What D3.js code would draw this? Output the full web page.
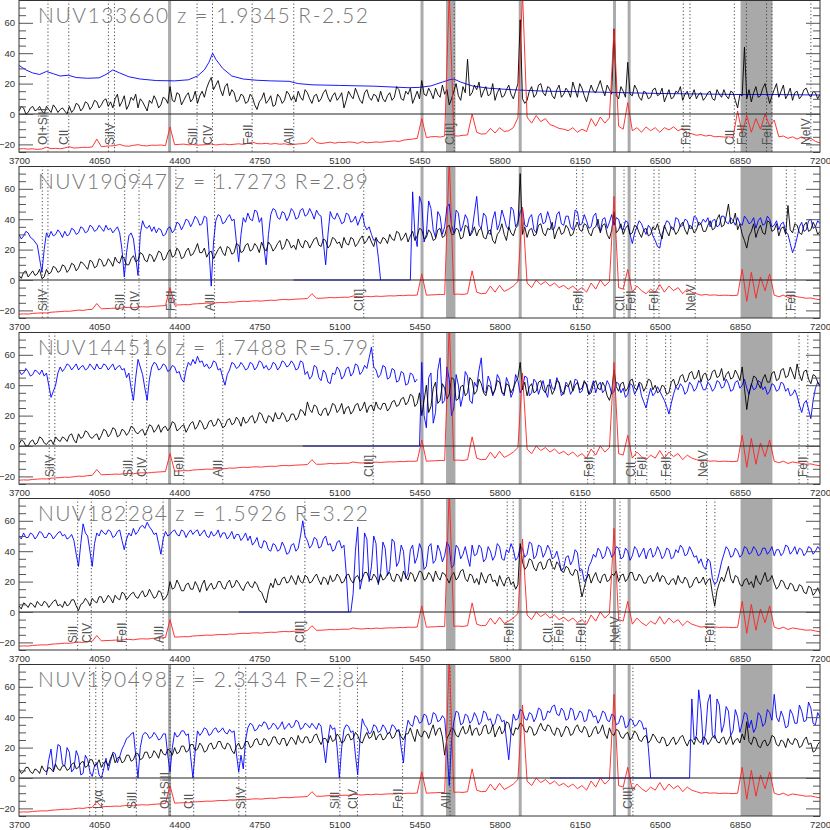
<!DOCTYPE html>
<html><head><meta charset="utf-8">
<script src="https://cdn.jsdelivr.net/npm/d3@7"></script>
<style>body{margin:0;background:#fff}svg{display:block}</style>
</head><body><svg id="c" width="830" height="830"></svg>
<script>
// ---------- DATA ----------
const WAVE0 = 3700;
const STEP = 10;       // object / comparison spectra sampled every 10 A
const SKY_STEP = 20;   // sky spectra sampled every 20 A
const xTicks = [3700,4050,4400,4750,5100,5450,5800,6150,6500,6850,7200];
const yMajor = [-20,0,20,40,60];
const yMinor = [-25,-15,-10,-5,5,10,15,25,30,35,45,50,55,65,70,75];
const titles = ["NUV133660 z = 1.9345 R-2.52","NUV190947 z = 1.7273 R=2.89","NUV144516 z = 1.7488 R=5.79","NUV182284 z = 1.5926 R=3.22","NUV190498 z = 2.3434 R=2.84"];
const redshifts = [1.9345, 1.7273, 1.7488, 1.5926, 2.3434];
const lineRest   = [1199,1207,1216,1260,1304,1335,1394,1403,1526,1549,1608,1670,1909,2250,2260,2326,2344,2374,2382,2440,2586,2600];
const lineLabels = ["","","Lyα","SiII","OI+SiII","CII","","SiIV","SiII","CIV","FeII","AlII","CIII]","","FeII","CII","FeII","","FeII","NeIV","","FeII"];
const skyLines = [4358, 5461, 5890, 6302, 6366];
const skyBands = [[5566,5607],[6853,6992]];

// ---- panel 1 ----
const p1Black = [2,5,4,0,1,4,5,2,3,5,2,0,5,3,1,6,4,1,3,4, 2,0,5,1,3,7,6,2,4,8,7,3,5,9,8,4,6,9,10,5,
 8,4,10,13,5,8,12,3,6,11,9,13,4,10,8,5,2,9,7,12, 9,4,6,11,10,7,18,9,8,14,13,6,9,12,14,8,10,15,7,12,
 15,11,17,21,24,16,19,22,16,12,18,20,12,16,14,8,9,13,12,7, 8,13,11,6,3,8,10,14,7,9,12,5,6,13,11,7,9,15,13,9,
 12,8,15,11,9,16,14,10,7,12,13,8,10,14,16,11,8,12,14,9, 11,14,4,9,15,12,10,17,13,9,7,14,16,11,9,13,12,8,15,10,
 8,12,14,9,11,18,16,10,9,15,13,17,7,11,15,10,22,13,12,17, 14,10,17,13,11,19,13,16,6,10,15,20,12,9,18,14,36,12,14,19,
 16,21,11,15,18,12,13,20,9,14,17,11,12,16,19,13,10,15,20,62, 10,7,9,15,18,11,13,19,20,14,12,18,17,12,10,16,19,11,13,17,
 15,11,21,16,11,20,17,12,8,14,19,15,14,18,22,16,12,19,16,13, 56,12,10,18,15,11,34,13,12,19,16,11,9,15,14,10,11,16,17,12,
 13,17,8,12,16,10,11,15,14,18,9,13,15,10,12,16,10,13,14,9, 11,14,15,10,9,16,13,11,16,12,10,15,14,9,4,13,12,44,10,16,
 8,14,18,11,12,17,20,13,7,12,16,20,11,15,19,10,13,17,9,14, 15,10,12,16,17,13,11,15,14,10,13];
const p1BlueWave = [3700,3730,3760,3790,3820,3850,3880,3915,3950,4000,4050,4080,4110,4140,4180,4230,4300,4380,4440,4480,4510,4530,4546,4560,4590,4630,4680,4740,4800,4880,4920,4980,5100,5250,5400,5450,5500,5550,5580,5600,5630,5680,5750,5850,6000,6200,6500,6850,7000,7200];
const p1BlueFlux = [32,29,27,26,28,26.5,25,25.5,24,23.5,23.8,26,29,27,24.5,23,22,21.8,22.5,25,29,34,40,36,30,25,23,22.2,21.8,21.5,20,19.2,18.8,18.3,17.3,17.5,18.5,21,22.5,23,21,18.5,17,16,15,14.5,13.5,12.8,12.8,12.5];
const p1Red = [-23,-22.8,-23.1,-22.9,-23.3,-23,-21.8,-22.8,-22.6,-22.9, -22.3,-21.5,-22.4,-22.2,-21.9,-22,-21.7,-16.5,-21.5,-21.2,
 -21,-20.8,-20,-21,-21.2,-20.6,-20.2,-20.8,-21,-20.5, -20.6,-20.4,-20.8,-8.5,-20.2,-20,-19.8,-20.3,-20,-20.5,
 -20.3,-20.1,-19.7,-20.4,-20,-19.8,-20.2,-19.9,-19.6,-20, -19.3,-18.5,-19.5,-19.6,-19.3,-19.8,-19.4,-19.9,-19.6,-20.2,
 -20,-19.7,-19.5,-19,-15.5,-18.8,-19.4,-19,-18.5,-19.2, -18.6,-18.8,-18.4,-18.6,-19.3,-18.2,-19,-18.7,-18.4,-18.6,
 -18.3,-18,-17.7,-18.1,-17.2,-16.8,-16.5,-16,-3,-15.5, -15,-14.8,-15.2,-14.5,80,-14.3,-14.5,-14,-13.8,0,
 -12,-13.2,-13,-9.5,-12.5,-9,-11.5,-11,-9,-2.5, 80,-2,-6,-1,-5,-3,-7,-8,-9.5,-10,
 -11,-9,-12,-10,-11.5,-3,-8,-2,-6,-2.5, 56,-8,-10,7.5,-11,-9,-12,-8.5,-11,-9,
 -12,-9,-10.5,-8.5,-11,-9.5,-12.5,-13,-14,-13.5, -14.5,-14,-15,-14.8,-15.2,-15,-15.5,2,-13,-1,
 -12,-3,-10,0,-8,-4,-15,-14.5,-16,-15, -16.5,-15,-17,-16,-18,-19];

// ---- sky spectrum shown in panels 2-5 ----
const redSky = [-22.5,-22.3,-22.4,-22,-21.8,-21.6,-21.7,-21.2,-21,-20.8, -20.5,-20.6,-20.2,-19.8,-20,-19.5,-19.3,-15.5,-19,-18.8,
 -18.7,-18.5,-18.6,-18.2,-18,-18.3,-17.8,-17.6,-17.8,-17.4, -17.2,-17,-16.8,-5,-16.5,-16.4,-16.2,-16.3,-15.8,-15.6,
 -15.5,-15.2,-15.3,-15,-14.8,-14.9,-14.5,-14.6,-14.2,-14, -14.1,-13.8,-13.7,-13.9,-13.5,-13.3,-13.4,-13,-12.8,-13,
 -12.7,-12.5,-12.4,-12.2,-9,-12,-12,-11.8,-11.5,-11.7, -11.5,-11.3,-11.4,-10.5,-11,-11.2,-10.8,-11,-10.6,-10.8,
 -10.6,-10.4,-10.5,-10.2,-10.3,-10,-10.1,-9.9,4,-10, -9.8,-9.7,-9.5,-9.6,80,-9.4,-9.3,-9.5,-9,6,
 -8,-9,-8.8,-4,-8,-3.5,-7.5,-6,-4,-1, 48,-2,-5,0,-3,-1,-4,-2,-5,-3.5,
 -6,-4,-7,-5,-8,-2,-6,0,-4,-1, 55,-5,-6,7,-8,-4,-7,-9,-6,-8,
 -3,-8,-4,-7,-5,-9,-6,-8,-9,-10, -9.5,-10,-9.8,-10.2,-10,-10.1,-10.3,-10,7,-14,
 5,-12,2,-7,4,-10,-11,-10,-11.5,-10.5, -11,-11.5,-12,-11.8,-12.5,-13];

// ---- panel 2 ----
const p2Black = [3,1,5,6,2,4,6,3,4,7,1,2,7,4,5,9,8,5,6,10, 9,5,7,11,10,6,8,12,11,9,7,13,12,8,9,14,13,9,10,14,
 12,9,15,12,11,16,14,10,10,14,16,12,13,18,17,13,12,17,16,12, 15,19,18,13,14,18,20,15,16,21,19,14,15,19,21,16,17,20,24,18,
 18,21,15,18,19,14,17,20,22,18,16,22,21,17,18,24,23,18,19,23, 24,19,20,24,22,18,25,21,19,25,23,19,21,24,26,20,22,27,25,21,
 23,20,27,23,21,26,25,21,24,27,28,23,22,27,26,21,23,28,27,24, 25,21,28,24,23,28,27,22,24,27,29,24,26,29,25,22,28,25,24,28,
 27,24,30,27,26,32,31,26,28,31,25,29,32,26,29,34,33,27,28,33, 31,26,27,33,34,28,29,35,36,30,30,34,33,27,28,36,35,29,31,35,
 29,33,34,28,27,32,33,26,24,30,32,37,30,26,35,31,29,34,36,70, 30,35,28,33,34,29,30,36,37,31,29,34,33,38,27,32,35,30,31,36,
 34,29,30,35,38,33,32,37,36,31,29,34,35,40,31,36,37,30,27,33, 45,31,33,37,30,34,36,30,31,36,35,31,28,33,34,29,30,35,33,37,
 31,27,36,32,29,35,34,30,32,36,38,33,30,36,35,31,33,38,37,32, 32,36,39,33,34,40,43,35,36,42,50,37,38,44,33,37,30,26,21,29,
 32,37,28,33,36,31,30,39,38,32,33,37,29,34,35,30,49,33,31,37, 36,31,30,36,38,32,33,38,35,30,32];
const p2BlueAStart = 3700;
const p2BlueA = [30,27,29,32,31,28,27,25,23,14,5,20,31,28,32,29,30,33,31,28, 32,29,30,34,33,30,31,35,34,31,32,36,35,32,33,36,34,32,36,33,
 34,31,33,35,31,20,2,18,29,31,27,15,3,30,39,35,34,36,32,35, 31,34,33,29,30,34,35,31,33,38,37,33,36,40,39,35,38,42,40,36,
 37,42,41,20,-4,25,39,43,42,37,38,41,43,39,40,25,12,30,41,38, 44,40,39,46,45,38,41,22,10,30,43,47,46,41,40,45,44,39,42,47,
 45,40,41,46,47,42,43,47,44,40,46,43,42,25,10,30,45,41,40,44, 41,37,38,44,43,38,39,42,36,40,44,36,33,35,30,26,27,15,0];
const p2BlueGap = [4900, 5410];   // red-arm spectrum is zero here
const p2BlueBStart = 5420;
const p2BlueB = [58,30,22,55,50,25,30,52, 47,33,28,45,42,30,35,48,50,36,31,46,44,32,36,43,40,29,33,44,
 55,36,34,44,42,31,30,40,45,33,37,46,41,35,33,48,46,35,38,45, 47,36,35,41,43,33,31,42,44,37,38,45,40,33,34,43,45,37,36,42,
 42,35,33,46,45,36,37,43,39,34,35,42,44,35,32,40,41,34,38,43, 36,41,40,34,33,39,38,30,24,31,35,39,37,33,30,36,34,29,26,22,
 21,30,35,39,38,34,33,41,40,35,36,40,39,34,34,42,41,36,37,40, 38,41,35,39,40,35,36,42,42,38,37,41,39,36,41,37,36,42,40,37,
 38,41,34,39,41,36,37,42,40,35,36,39,33,37,38,32,30,24,18,22, 28,35,38,32,33,39,40,34,35,39,37];

// ---- panel 3 ----
const p3Black = [1,4,3,0,0,3,4,1,2,6,5,2,1,3,4,1,6,4,3,6, 5,3,7,8,4,2,8,5,6,10,9,6,5,7,8,4,7,11,10,6,
 8,12,11,6,7,11,10,7,9,13,12,9,8,10,11,7,10,14,13,9, 11,14,9,12,13,10,12,16,15,10,11,13,14,9,12,15,16,11,13,17,
 15,11,12,16,17,13,14,18,16,12,13,17,18,14,15,19,17,13,19,15, 16,19,20,15,17,22,21,17,15,20,19,16,22,18,18,22,20,16,17,21,
 21,17,19,24,23,20,29,24,22,27,26,21,20,24,25,20,23,28,27,22, 24,28,21,25,26,21,23,27,28,23,25,29,22,26,27,23,29,25,24,28,
 28,23,25,29,30,26,27,31,32,27,29,34,33,26,28,35,20,30,40,22, 26,38,42,28,30,41,38,31,34,45,44,30,31,39,40,33,35,45,43,34,
 36,44,41,35,33,40,39,34,37,43,42,36,34,41,40,35,38,42,45,55, 37,42,33,39,41,35,36,42,43,37,35,40,40,34,37,43,42,36,34,40,
 39,43,36,40,42,37,38,43,40,34,35,41,43,38,37,42,39,33,30,36, 50,39,36,41,42,36,38,43,44,38,37,42,41,36,39,44,43,37,40,35,
 36,40,39,34,35,42,44,39,41,46,47,42,43,48,49,44,45,50,42,47, 48,43,44,49,50,45,46,51,43,47,49,44,45,50,47,43,52,38,24,35,
 40,46,45,41,38,44,47,42,42,48,49,43,44,50,51,45,46,52,48,44, 54,47,43,49,50,44,41,47,46,42,39];
const p3BlueAStart = 3700;
const p3BlueA = [50,47,48,51,49,46,47,50,49,47,50,46,48,40,32,36,40,48,52,49, 51,54,53,50,52,54,50,52,53,50,51,54,52,50,54,51,51,54,53,50,
 52,54,50,52,53,50,51,45,48,38,30,45,57,52,47,38,30,44,52,55, 54,50,51,54,53,49,50,53,52,48,49,44,42,50,55,53,57,54,59,55,
 56,52,54,51,52,56,55,50,51,45,40,47,50,55,54,51,52,55,53,50, 51,55,54,50,52,56,55,51,53,50,51,55,54,50,52,56,55,52,53,56,
 54,50,51,56,55,47,49,44,46,53,52,45,43,50,48,42,41,48,47,52, 50,44,46,51,52,46,48,54,53,47,49,53,51,58,65,52,50,45,47,53,
 52,44,45,51,50,42,43,49,48,40,41,48,47,42,44];
const p3BlueGap = [4940, 5450];
const p3BlueBStart = 5460;
const p3BlueB = [55,20,12,45, 48,15,22,50,58,28,30,52,44,20,25,47,40,26,33,49,46,30,28,42,
 39,50,58,36,35,46,42,33,37,47,44,35,33,45,41,32,36,47,43,35, 38,46,45,33,35,44,42,34,39,43,36,32,44,38,37,45,41,33,35,42,
 40,34,37,44,43,35,36,42,41,34,38,43,35,40,42,35,37,43,40,34, 36,42,41,35,38,32,34,41,40,34,37,41,33,29,25,32,38,33,35,39,
 36,33,30,26,21,28,34,39,37,41,39,34,36,42,40,36,38,43,41,37, 37,42,40,36,38,43,42,38,39,44,41,36,37,42,43,38,40,44,38,34,
 41,37,38,43,42,37,39,34,36,41,40,36,37,42,41,36,38,33,34,37, 33,27,22,28,30,24,18,30,38,42,40];

// ---- panel 4 ----
const p4Black = [4,2,6,5,3,6,5,3,7,5,4,7,6,3,5,7,8,4,5,3, 7,4,5,8,8,4,1,5,6,9,7,4,9,7,6,10,10,6,8,11,
 9,6,11,9,8,13,12,8,10,12,13,10,9,12,14,10,11,15,12,9, 10,14,13,8,9,12,20,15,16,21,18,14,14,18,19,15,15,20,17,13,
 18,21,14,17,19,15,16,20,20,16,15,19,21,16,17,21,19,16,14,18, 20,17,16,20,18,14,13,9,6,14,19,16,22,18,18,22,23,19,20,24,
 21,18,24,20,19,24,23,19,20,23,25,21,18,23,22,18,24,20,21,25, 23,19,20,24,25,21,19,23,24,20,22,26,26,22,21,25,23,19,25,21,
 22,25,26,21,20,25,24,20,27,23,21,26,25,20,23,27,26,21,22,26, 24,20,27,23,21,26,25,22,19,24,26,21,23,27,28,22,20,25,24,19,
 22,18,26,22,19,24,25,20,21,17,24,20,17,22,23,18,20,15,18,45, 33,28,30,35,34,29,27,32,33,28,29,34,35,30,28,33,31,27,26,30,
 29,25,24,28,27,18,10,16,22,25,19,23,26,21,19,24,25,20,21,25, 24,27,20,24,25,20,22,26,26,21,21,25,23,19,19,23,24,20,22,26,
 20,24,23,19,18,21,22,18,24,20,19,23,21,16,17,21,23,19,20,23, 18,21,22,12,4,14,19,23,20,25,30,22,19,24,23,18,17,21,22,18,
 20,16,24,20,18,22,26,20,21,24,19,15,17,21,20,16,15,19,18,14, 14,18,17,13,12,17,16,11,13,16,12];
const p4BlueAStart = 3700;
const p4BlueA = [50,48,52,49,49,52,51,48,50,53,52,49,49,52,51,48,50,52,53,50, 51,48,49,51,47,38,30,45,58,52,50,40,30,45,52,50,54,52,51,54,
 53,49,50,53,54,47,41,48,52,50,55,51,53,56,57,55,59,56,54,51, 52,45,38,48,53,50,51,53,54,51,50,54,53,49,52,54,51,53,54,50,
 52,54,50,49,53,50,51,54,49,52,52,48,50,53,48,51,51,47,49,52, 47,50,44,46,49,43,42,47,46,41,40,45,44,40,41,46,43,38,39,44,
 45,40,42,50,60,50,47,42,44,49,48,42,43,48,50,44,45,40,41,46, 47,42,44,25,0];
const p4BlueGap = [4660, 5150];
const p4BlueBStart = 5160;
const p4BlueB = [12,40,56,15,22,52,48,20,30,50,45,18,26,46,
 42,24,28,48,46,30,33,44,40,22,25,41,44,32,36,45,41,28,30,43, 45,32,34,44,40,33,37,46,43,29,31,44,42,35,38,43,36,30,44,37,
 38,44,42,33,35,43,40,34,37,45,43,35,34,41,39,45,41,34,36,43, 42,36,38,46,45,35,37,44,43,36,39,44,41,35,36,40,34,27,29,36,
 37,31,34,41,39,27,28,20,22,30,33,38,36,42,40,35,37,43,41,36, 38,43,42,35,36,42,40,34,37,43,41,36,39,42,35,40,42,36,38,43,
 40,35,37,42,41,35,36,41,39,44,42,37,38,43,40,36,37,32,35,30, 28,35,33,22,18,20,26,33,38,43,41,36,37,42,40,36,38,43,42,38,
 39,43,41,37,38,42,42,38,40,43,37,41,41,37,39,44,43,38,40,43, 38,42,41,37,39,43,42,38,40,43,41];

// ---- panel 5 ----
const p5Black = [6,3,4,7,7,4,3,6,5,3,8,5,4,7,6,4,9,6,5,8, 8,5,6,9,10,6,7,10,11,7,8,12,12,8,9,12,7,10,11,8,
 13,16,10,13,14,10,11,15,15,11,12,16,16,12,13,17,17,13,14,18, 16,13,19,16,15,19,18,15,20,16,17,21,21,17,18,22,22,18,19,23,
 21,17,18,22,23,19,20,24,24,20,19,23,22,18,16,21,23,19,20,24, 24,20,21,25,26,22,22,26,25,21,23,27,27,23,22,26,26,21,24,27,
 25,22,28,24,23,27,27,23,24,28,29,25,22,26,26,23,28,24,25,29, 27,23,24,28,29,25,26,30,28,24,23,27,30,26,27,31,25,28,29,25,
 26,29,30,26,27,31,31,27,25,29,29,33,28,24,32,28,27,31,30,26, 31,35,28,32,33,27,15,26,29,33,32,28,27,31,34,29,30,35,28,32,
 33,28,29,34,35,29,30,35,27,31,34,29,31,37,36,30,28,33,32,36, 35,31,30,34,33,28,29,33,36,32,31,35,34,30,28,33,32,27,30,34,
 33,28,29,33,35,31,30,34,32,27,28,32,34,29,31,35,29,26,33,29, 28,32,31,27,26,29,30,25,27,31,29,25,24,27,28,23,25,29,27,24,
 23,27,26,21,22,25,27,22,24,27,28,24,21,25,25,22,27,24,23,27, 26,22,24,27,28,24,23,26,27,22,25,28,22,25,26,23,29,25,37,24,
 22,27,26,21,20,24,25,21,23,28,27,22,21,25,24,20,26,23,22,26, 25,20,21,25,27,22,23,17,18,22,24];
const p5BlueAStart = 3820;
const p5BlueA = [2,12,19,5,10,22,21,9, 8,20,17,4,6,18,14,2,3,15,12,4,1,8,10,2,0,6,13,5,
 11,17,16,10,14,19,22,26,27,29,30,15,0,20,28,30,29,26,27,30, 28,25,26,29,29,15,4,20,30,27,28,31,31,28,29,14,0,18,31,28,
 30,33,32,28,29,32,33,30,31,33,30,29,32,30,31,16,4,15,6,25, 33,36,35,31,32,35,34,37,36,32,33,36,35,32,34,37,32,34,36,33,
 34,38,37,32,33,36,35,33,36,34,32,36,34,22,10,25,35,32,33,20, 0,20,32,35,34,30,31,15,2,25,39,35,33,29,30,35,34,30,31,35,
 33,29,30,35,34,31,32,20,10,30,38,35,34,41,40,36,37,42,41,35, 36,43,42,37,38,41,39,20,-5,25,37,44,43,35,36,42,41,36,38,43,
 40,35,37,44,43,38,39,34,36,42,41,37,38,25,12,30,42,38,39,45, 44,39,38,43,42,37,40,46,45,38,39,44,43,47,48,42,41,46,44,38,
 39,46,45,38,40,44,43,37,38,45,44,40,41,36,39,44,43,38,37,42, 41,35,36,41,40,33,34,39,38,34,35,38,37,32,33,20,0];
const p5BlueGap = [6020, 6630];
const p5BlueBStart = 6640;
const p5BlueB = [52,25,28,58,45,22, 30,50,55,28,26,52,48,30,35,47,44,28,31,45,40,30,36,43,42,33,
 38,30,33,43,41,34,36,45,43,38,55,40,37,44,40,33,34,45,42,36, 36,48,44,37,38,50,46,36,35,43,40];

// ---------- TABLE built from the arrays ----------
const grid = (start, step, vals) => vals.map((v, i) => [start + i * step, v]);
const withGap = (gap, start, vals) => [[gap[0], 0], [gap[1], 0]].concat(grid(start, STEP, vals));
const panels = [
  {title: titles[0], z: redshifts[0], black: grid(WAVE0, STEP, p1Black),
   blue: [p1BlueWave.map((w, i) => [w, p1BlueFlux[i]])], red: grid(WAVE0, SKY_STEP, p1Red)},
  {title: titles[1], z: redshifts[1], black: grid(WAVE0, STEP, p2Black),
   blue: [grid(p2BlueAStart, STEP, p2BlueA), withGap(p2BlueGap, p2BlueBStart, p2BlueB)], red: grid(WAVE0, SKY_STEP, redSky)},
  {title: titles[2], z: redshifts[2], black: grid(WAVE0, STEP, p3Black),
   blue: [grid(p3BlueAStart, STEP, p3BlueA), withGap(p3BlueGap, p3BlueBStart, p3BlueB)], red: grid(WAVE0, SKY_STEP, redSky)},
  {title: titles[3], z: redshifts[3], black: grid(WAVE0, STEP, p4Black),
   blue: [grid(p4BlueAStart, STEP, p4BlueA), withGap(p4BlueGap, p4BlueBStart, p4BlueB)], red: grid(WAVE0, SKY_STEP, redSky)},
  {title: titles[4], z: redshifts[4], black: grid(WAVE0, STEP, p5Black),
   blue: [grid(p5BlueAStart, STEP, p5BlueA), withGap(p5BlueGap, p5BlueBStart, p5BlueB)], red: grid(WAVE0, SKY_STEP, redSky)}
];

// ---------- DRAW ----------
const svg = d3.select('#c');
const L = 19, R = 820, PH = 152, PSTEP = 166;
const x = d3.scaleLinear().domain([3700, 7200]).range([L, R]);
const defs = svg.append('defs');
const tickFont = 'Liberation Sans, Arial, sans-serif';

panels.forEach((p, k) => {
  const top = k * PSTEP;
  const y = d3.scaleLinear().domain([-25, 75]).range([top + PH, top]);
  defs.append('clipPath').attr('id', 'clip' + k).append('rect')
    .attr('x', L).attr('y', top).attr('width', R - L).attr('height', PH);
  const g = svg.append('g');
  const pg = g.append('g').attr('clip-path', `url(#clip${k})`);

  pg.selectAll('rect.band').data(skyBands).join('rect').attr('class', 'band')
    .attr('x', d => x(d[0])).attr('width', d => x(d[1]) - x(d[0]))
    .attr('y', top).attr('height', PH).attr('fill', '#a9a9a9');
  pg.selectAll('line.sky').data(skyLines).join('line').attr('class', 'sky')
    .attr('x1', d => x(d)).attr('x2', d => x(d)).attr('y1', top).attr('y2', top + PH)
    .attr('stroke', '#ababab').attr('stroke-width', 3);

  const ids = lineRest.map((w, i) => ({w: w * (1 + p.z), label: lineLabels[i]}))
    .filter(d => d.w > 3700 && d.w < 7200);
  pg.selectAll('line.id').data(ids).join('line').attr('class', 'id')
    .attr('x1', d => x(d.w)).attr('x2', d => x(d.w)).attr('y1', top).attr('y2', top + PH)
    .attr('stroke', '#333').attr('stroke-width', 0.9).attr('stroke-dasharray', '1.2,2.3');

  const line = d3.line().x(d => x(d[0])).y(d => y(d[1]));
  p.blue.forEach(s => pg.append('path').datum(s).attr('d', line)
    .attr('fill', 'none').attr('stroke', '#0000ff').attr('stroke-width', 0.9));
  pg.append('path').datum(p.black).attr('d', line)
    .attr('fill', 'none').attr('stroke', '#000').attr('stroke-width', 0.9);
  pg.append('path').datum(p.red).attr('d', line)
    .attr('fill', 'none').attr('stroke', '#ff2020').attr('stroke-width', 0.9);

  g.append('line').attr('x1', L).attr('x2', R).attr('y1', y(0)).attr('y2', y(0))
    .attr('stroke', '#222').attr('stroke-width', 1);

  g.selectAll('text.id').data(ids.filter(d => d.label)).join('text').attr('class', 'id')
    .attr('transform', d => `translate(${x(d.w) - 0.5},${top + 145}) rotate(-90)`)
    .attr('font-family', tickFont).attr('font-size', 12).attr('fill', '#555')
    .text(d => d.label);

  g.append('text').attr('x', 38).attr('y', top + 23)
    .attr('font-family', 'Lato, DejaVu Sans, sans-serif').attr('font-weight', 300)
    .attr('font-size', 21).attr('fill', '#777')
    .attr('textLength', 330).attr('lengthAdjust', 'spacing')
    .text(p.title);

  const ax = (gen) => { const a = g.append('g').call(gen); a.select('.domain').remove(); return a; };
  const yl = ax(d3.axisLeft(y).tickValues(yMajor).tickSize(-14).tickPadding(4));
  yl.attr('transform', `translate(${L},0)`);
  yl.selectAll('line').attr('stroke', '#555');
  yl.selectAll('text').attr('font-family', tickFont).attr('font-size', 9.5).attr('fill', '#333');
  const ylm = ax(d3.axisLeft(y).tickValues(yMinor).tickSize(-7).tickFormat(''));
  ylm.attr('transform', `translate(${L},0)`).selectAll('line').attr('stroke', '#555');
  const yr = ax(d3.axisRight(y).tickValues(yMajor).tickSize(-14).tickFormat(''));
  yr.attr('transform', `translate(${R},0)`).selectAll('line').attr('stroke', '#555');
  const yrm = ax(d3.axisRight(y).tickValues(yMinor).tickSize(-7).tickFormat(''));
  yrm.attr('transform', `translate(${R},0)`).selectAll('line').attr('stroke', '#555');
  const xb = ax(d3.axisBottom(x).tickValues(xTicks).tickSize(0).tickPadding(5).tickFormat(d3.format('d')));
  xb.attr('transform', `translate(0,${top + PH})`);
  xb.selectAll('text').attr('font-family', tickFont).attr('font-size', 9.5).attr('fill', '#333');

  g.append('rect').attr('x', L).attr('y', top + 0.5).attr('width', R - L).attr('height', PH - 0.5)
    .attr('fill', 'none').attr('stroke', '#333').attr('stroke-width', 1);
});
</script>
</body></html>
